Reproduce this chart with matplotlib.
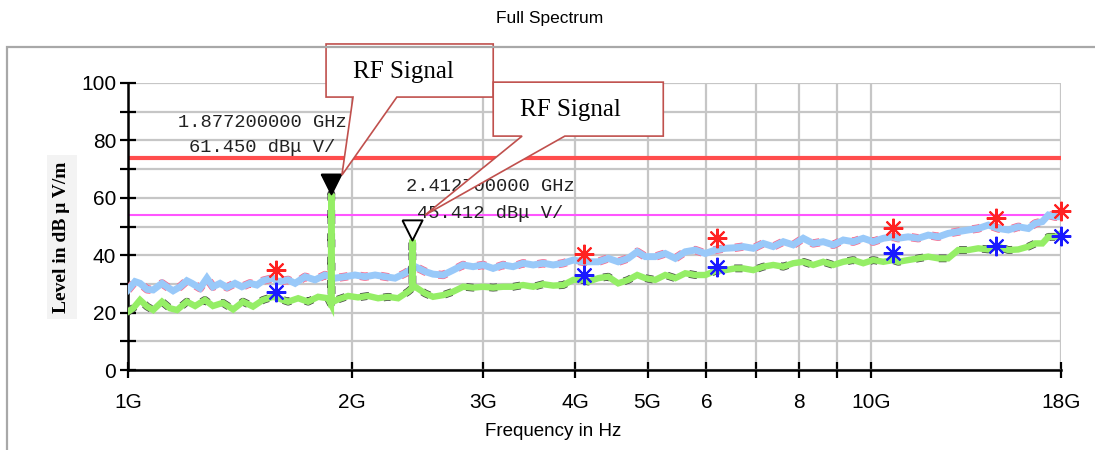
import matplotlib
matplotlib.use("Agg")
import matplotlib.pyplot as plt
from matplotlib.patches import Rectangle, Polygon

# ---------------- data (GHz, dBuV/m) ----------------
peak_freq = [1.0, 1.022, 1.038, 1.061, 1.081, 1.111, 1.128, 1.150, 1.175, 1.200, 1.219, 1.250,
             1.277, 1.301, 1.330, 1.359, 1.393, 1.423, 1.459, 1.491, 1.519, 1.567,
             1.591, 1.642, 1.678, 1.731, 1.785, 1.841, 1.899, 1.959, 2.020, 2.084, 2.150,
             2.218, 2.287, 2.359, 2.434, 2.510, 2.573,
             2.655, 2.738, 2.824, 2.913, 3.004, 3.099, 3.197, 3.297, 3.401, 3.509, 3.619,
             3.733, 3.850, 3.972, 4.097,
             4.161, 4.292, 4.427, 4.566, 4.710, 4.843, 4.965, 5.121, 5.282, 5.449, 5.620,
             5.797, 5.980, 6.166, 6.361, 6.561, 6.726,
             6.938, 7.156, 7.381, 7.614, 7.852, 8.100, 8.354, 8.617, 8.889, 9.170, 9.458,
             9.755, 10.06, 10.38, 10.70,
             10.87, 11.21, 11.57, 11.93, 12.31, 12.69, 13.09, 13.51, 13.93, 14.37, 14.83,
             15.29, 15.77, 16.27, 16.62, 16.99, 17.31, 17.69, 18.0]
peak_level = [27.9, 30.8, 30.2, 28.1, 27.9, 30.2, 29.0, 27.6, 29.0, 31.1, 30.2, 28.5,
              32.0, 29.0, 30.2, 28.8, 30.2, 29.0, 30.2, 29.6, 31.1, 32.0,
              30.8, 31.4, 30.2, 32.5, 31.4, 33.1, 32.0, 32.5, 33.1, 32.5, 33.1,
              32.5, 32.0, 33.7, 36.0, 34.3, 33.4,
              33.1, 34.8, 36.6, 36.0, 36.6, 35.4, 36.6, 36.0, 37.2, 36.6, 37.2,
              36.6, 37.2, 38.3, 37.7,
              37.7, 37.7, 38.9, 37.7, 38.9, 41.2, 39.5, 39.5, 40.6, 38.9, 41.2,
              41.8, 40.6, 41.8, 42.4, 42.6, 43.0,
              42.4, 44.1, 43.0, 44.7, 43.6, 45.9, 44.1, 44.7, 43.6, 45.3, 44.7,
              45.9, 44.7, 45.9, 46.4,
              45.9, 46.4, 45.9, 47.0, 46.4, 47.6, 48.2, 48.8, 49.3, 50.5, 49.3,
              48.8, 49.9, 49.3, 51.1, 51.7, 54.0, 53.4, 53.4]

avg_freq = [1.0, 1.016, 1.038, 1.061, 1.081, 1.111, 1.139, 1.164, 1.200, 1.231, 1.269,
            1.301, 1.342, 1.385, 1.428, 1.473, 1.519, 1.567,
            1.591, 1.642, 1.694, 1.747, 1.802, 1.858, 1.875, 1.8772, 1.879, 1.917, 1.978,
            2.039, 2.104, 2.170, 2.239, 2.309, 2.381, 2.411, 2.4127, 2.414, 2.434, 2.510, 2.573,
            2.655, 2.738, 2.824, 2.913, 3.004, 3.099, 3.197, 3.297, 3.401, 3.509, 3.619,
            3.733, 3.850, 3.972, 4.097,
            4.161, 4.292, 4.427, 4.566, 4.710, 4.843, 4.965, 5.121, 5.282, 5.449, 5.620,
            5.797, 5.980, 6.166, 6.361, 6.561, 6.726,
            6.938, 7.156, 7.381, 7.614, 7.852, 8.100, 8.354, 8.617, 8.889, 9.170, 9.458,
            9.755, 10.06, 10.38, 10.70,
            10.87, 11.21, 11.57, 11.93, 12.31, 12.69, 13.09, 13.51, 13.93, 14.37, 14.83,
            15.29, 15.77, 16.27, 16.62, 16.99, 17.31, 17.69, 18.0]
avg_level = [20.3, 21.5, 24.4, 22.1, 20.9, 23.8, 21.5, 20.9, 23.8, 22.3, 24.4,
             22.3, 23.4, 21.1, 23.8, 22.1, 24.4, 25.5,
             25.0, 23.8, 25.0, 23.8, 25.5, 25.0, 23.0, 61.45, 23.5, 24.6, 25.8,
             25.3, 25.8, 25.0, 25.5, 25.0, 27.3, 28.5, 45.41, 28.8, 29.0, 26.7, 25.5,
             26.1, 27.3, 29.0, 28.7, 29.0, 28.7, 29.0, 29.0, 29.6, 29.0, 29.9,
             29.4, 29.6, 31.4, 31.4,
             30.8, 32.0, 32.5, 30.2, 31.4, 33.1, 32.0, 31.4, 33.1, 32.0, 33.7,
             33.1, 33.1, 34.5, 34.8, 35.4, 35.4,
             34.8, 36.0, 36.6, 36.0, 37.2, 37.7, 36.6, 37.7, 36.6, 37.7, 38.3,
             37.2, 38.3, 37.7, 38.3,
             37.7, 38.3, 38.9, 39.5, 38.9, 38.9, 41.8, 41.8, 42.4, 42.0, 43.0,
             41.8, 42.0, 43.0, 44.1, 44.1, 46.4, 46.4, 47.6]

qp_freq = [1.58, 4.11, 6.20, 10.7, 14.7, 18.0]
qp_peak = [34.8, 40.4, 46.0, 49.5, 53.0, 55.4]
qp_avg = [27.2, 33.1, 35.9, 40.8, 43.2, 46.7]

limit_qp = 74.0
limit_av = 54.0

marker_freq = [1.8772, 2.4127]
marker_level = [61.45, 45.412]
marker_text = [("1.877200000 GHz", "61.450 dB\u03bc V/"),
               ("2.412700000 GHz", "45.412 dB\u03bc V/")]

xticks = [1, 2, 3, 4, 5, 6, 7, 8, 9, 10, 18]
xticklabels = ["1G", "2G", "3G", "4G", "5G", "6", "", "8", "", "10G", "18G"]
yticks = [0, 20, 40, 60, 80, 100]
yminor = [10, 30, 50, 70, 90]

# ---------------- figure ----------------
W, H, DPI = 1095, 450, 100
fig = plt.figure(figsize=(W / DPI, H / DPI), dpi=DPI)
fig.patch.set_facecolor("white")

# outer frame
fig.patches.append(Rectangle((7 / W, -0.1), 1.2, 1 - 47 / H + 0.1, transform=fig.transFigure,
                             fill=False, edgecolor="#a8a8a8", lw=1.6, zorder=0))

fig.text(550 / W, 1 - 18 / H, "Full Spectrum", ha="center", va="center",
         fontsize=12.5, family="Liberation Sans")

ax = fig.add_axes([128 / W, 80 / H, (1061 - 128) / W, (370 - 83) / H])
ax.set_xscale("log")
ax.set_xlim(1, 18)
ax.set_ylim(0, 100)

for s in ["top", "right"]:
    ax.spines[s].set_visible(False)
for s in ["left", "bottom"]:
    ax.spines[s].set_linewidth(1.8)
    ax.spines[s].set_color("black")

ax.xaxis.set_major_locator(matplotlib.ticker.FixedLocator(xticks))
ax.xaxis.set_minor_locator(matplotlib.ticker.NullLocator())
ax.set_xticks(xticks)
ax.set_xticklabels(xticklabels)
ax.set_yticks(yticks)
ax.set_yticks(yminor, minor=True)
ax.tick_params(axis="both", which="both", direction="inout", length=11, width=1.6,
               colors="black", labelsize=15)
ax.tick_params(axis="x", pad=11)
ax.tick_params(axis="y", pad=3)
for lab in ax.get_xticklabels() + ax.get_yticklabels():
    lab.set_family("Liberation Sans")

ax.grid(True, which="both", color="#c6c6c6", lw=1.6, zorder=0)
ax.set_axisbelow(True)

# limit lines
ax.axhline(limit_qp, color="#ff4d4d", lw=3.0, zorder=2)
ax.axhline(limit_av, color="#ff55ff", lw=1.5, zorder=2)

# traces
ax.plot(peak_freq, peak_level, color="#ff6688", lw=6.0, ls=(0, (1, 1.5)), zorder=3)
ax.plot(peak_freq, peak_level, color="#99c9f9", lw=5.0, zorder=4, solid_joinstyle="miter")
ax.plot(avg_freq, avg_level, color="#444444", lw=5.6, ls=(0, (1, 2)), zorder=5)
ax.plot(avg_freq, avg_level, color="#95ee66", lw=4.6, zorder=6, solid_joinstyle="miter")

# final measurement stars
ax.plot(qp_freq, qp_peak, ls="none", marker=(8, 2, 0), ms=14, mew=1.5, color="#ff2222",
        zorder=8, clip_on=False)
ax.plot(qp_freq, qp_avg, ls="none", marker=(8, 2, 0), ms=14, mew=1.5, color="#1a1aff",
        zorder=8, clip_on=False)

# marker triangles, tip on the signal
tri = [(-0.5, 1.0), (0.5, 1.0), (0.0, 0.0), (-0.5, 1.0)]
ax.plot(marker_freq[0], marker_level[0], ls="none", marker=tri, ms=29,
        mfc="black", mec="black", mew=1.2, zorder=9)
ax.plot(marker_freq[1], marker_level[1], ls="none", marker=tri, ms=29,
        mfc="white", mec="black", mew=1.4, zorder=9)

# marker readouts
txt_pos = [((1.514, 86.1), (1.514, 77.7)), ((3.07, 64.1), (3.07, 54.7))]
for (l1, l2), (p1, p2) in zip(marker_text, txt_pos):
    ax.text(p1[0], p1[1], l1, ha="center", va="center", fontsize=13.5,
            family="Liberation Mono", color="#222222", zorder=10)
    ax.text(p2[0], p2[1], l2, ha="center", va="center", fontsize=13.5,
            family="Liberation Mono", color="#222222", zorder=10)

# callouts
callouts = [
    ([(1.847, 113.6), (3.10, 113.6), (3.10, 95.1), (2.30, 95.1), (1.94, 67.9),
      (2.008, 95.1), (1.847, 95.1)], (2.345, 103.8)),
    ([(3.10, 100.3), (5.25, 100.3), (5.25, 81.5), (3.87, 81.5), (2.51, 54.0),
      (3.39, 81.5), (3.10, 81.5)], (3.935, 90.6)),
]
for verts, tpos in callouts:
    ax.add_patch(Polygon(verts, closed=True, facecolor="white", edgecolor="#c0504d",
                         lw=1.2, zorder=11, clip_on=False))
    ax.text(tpos[0], tpos[1], "RF Signal", ha="center", va="center", fontsize=18,
            family="Liberation Serif", zorder=12, clip_on=False)

# axis labels
fig.text(553 / W, 1 - 431 / H, "Frequency in Hz", ha="center", va="center",
         fontsize=13.5, family="Liberation Sans")
fig.text(62 / W, 1 - 237 / H, "Level in dB \u03bc V/m", rotation=90, ha="center",
         va="center", fontsize=14, fontweight="bold", family="Liberation Serif",
         bbox=dict(boxstyle="square,pad=0.35", facecolor="#f3f3f3", edgecolor="none"))

fig.savefig("out.png", dpi=DPI)
